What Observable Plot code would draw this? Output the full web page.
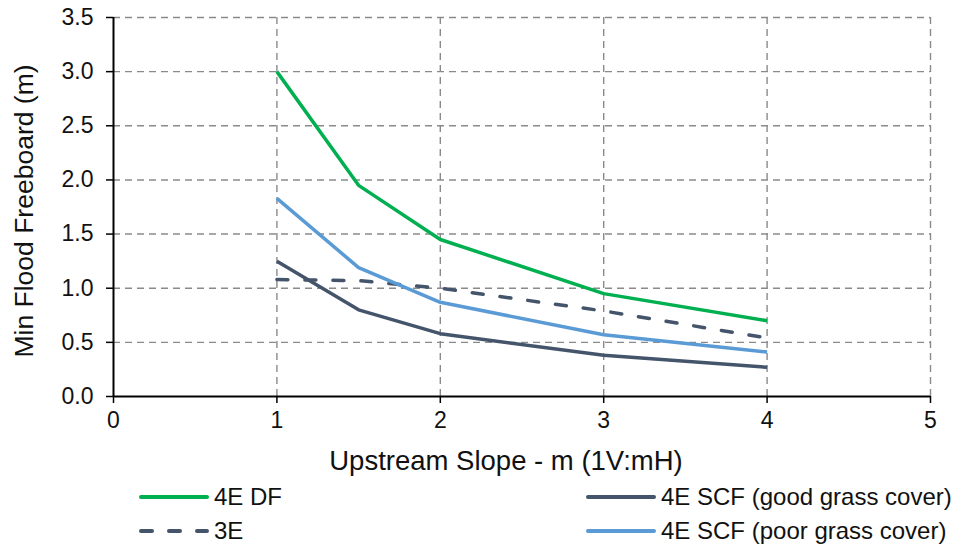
<!DOCTYPE html>
<html>
<head>
<meta charset="utf-8">
<script src="https://cdn.jsdelivr.net/npm/d3@7"></script>
<script src="https://cdn.jsdelivr.net/npm/@observablehq/plot@0.6"></script>
<style>
  html, body { margin: 0; padding: 0; background: #fff; }
  body { width: 953px; height: 546px; overflow: hidden; font-family: "Liberation Sans", Arial, sans-serif; }
  #legend { position: relative; width: 953px; height: 66px; }
  .item { position: absolute; height: 30px; display: flex; align-items: center; }
  .item svg { display: block; }
  .item span { display: inline-block; font-size: 24px; color: #111; white-space: nowrap; margin-left: 4px; }
</style>
</head>
<body>
<div id="chart"></div>
<div id="legend"></div>
<script>
// ---- data ----
const slopes = [1, 1.5, 2, 3, 4];
const seriesNames = ["4E DF", "4E SCF (good grass cover)", "3E", "4E SCF (poor grass cover)"];
const df4E    = [3.00, 1.95, 1.45, 0.95, 0.70];
const scfGood = [1.25, 0.80, 0.58, 0.38, 0.27];
const e3      = [1.08, 1.07, 1.00, 0.79, 0.54];
const scfPoor = [1.83, 1.19, 0.87, 0.57, 0.41];
const xTicks = [0, 1, 2, 3, 4, 5];
const yTicks = [0, 0.5, 1, 1.5, 2, 2.5, 3, 3.5];
const xLabel = "Upstream Slope - m (1V:mH)";
const yLabel = "Min Flood Freeboard (m)";

const colors = ["#00B050", "#44546A", "#44546A", "#5B9BD5"];
const dashes = [null, null, "11,17", null];
const valueSets = [df4E, scfGood, e3, scfPoor];

const table = seriesNames.flatMap((s, i) => slopes.map((x, j) => ({series: s, x, y: valueSets[i][j]})));

const gridStyle = {stroke: "#8a8a8a", strokeOpacity: 1, strokeWidth: 1.4, strokeDasharray: "7,5"};

const plot = Plot.plot({
  width: 953,
  height: 480,
  marginLeft: 113,
  marginRight: 23,
  marginTop: 17,
  marginBottom: 84,
  style: {fontFamily: "'Liberation Sans', Arial, sans-serif", fontSize: "23px", color: "#111", background: "#fff"},
  x: {domain: [0, 5]},
  y: {domain: [0, 3.5]},
  marks: [
    Plot.gridY(yTicks.filter(d => d > 0), gridStyle),
    Plot.gridX(xTicks.filter(d => d > 0), gridStyle),
    ...seriesNames.map((s, i) => Plot.line(table.filter(d => d.series === s), {
      x: "x", y: "y", stroke: colors[i], strokeWidth: 3.5,
      strokeDasharray: dashes[i], strokeLinecap: dashes[i] ? "round" : "butt", strokeLinejoin: "round"
    })),
    Plot.axisY(yTicks, {tickSize: 7, tickPadding: 13, tickFormat: d3.format(".1f"), fontSize: 23, stroke: "#000", strokeWidth: 1.5, label: null}),
    Plot.axisX(xTicks, {tickSize: 7, tickPadding: 8, tickFormat: d => String(d), fontSize: 23, stroke: "#000", strokeWidth: 1.5, label: null}),
    Plot.ruleY([0], {stroke: "#000", strokeWidth: 2}),
    Plot.ruleX([0], {stroke: "#000", strokeWidth: 2})
  ]
});

const svg = d3.select(plot);
svg.append("text")
  .attr("x", 506).attr("y", 470)
  .attr("text-anchor", "middle")
  .attr("font-size", 27.5)
  .attr("fill", "#111")
  .text(xLabel);
svg.append("text")
  .attr("transform", "translate(33,211) rotate(-90)")
  .attr("text-anchor", "middle")
  .attr("font-size", 26.5)
  .attr("fill", "#111")
  .text(yLabel);

document.getElementById("chart").appendChild(plot);

// ---- legend ----
const legendPos = [[138, 2], [585, 2], [138, 36], [585, 36]];
const legend = d3.select("#legend");
seriesNames.forEach((s, i) => {
  const item = legend.append("div").attr("class", "item")
    .style("left", legendPos[i][0] + "px").style("top", legendPos[i][1] + "px");
  const sw = item.append("svg").attr("width", 72).attr("height", 10);
  sw.append("line").attr("x1", 3).attr("x2", 69).attr("y1", 5).attr("y2", 5)
    .attr("stroke", colors[i]).attr("stroke-width", 4)
    .attr("stroke-linecap", "round")
    .attr("stroke-dasharray", dashes[i]);
  item.append("span").text(s);
});
</script>
</body>
</html>
